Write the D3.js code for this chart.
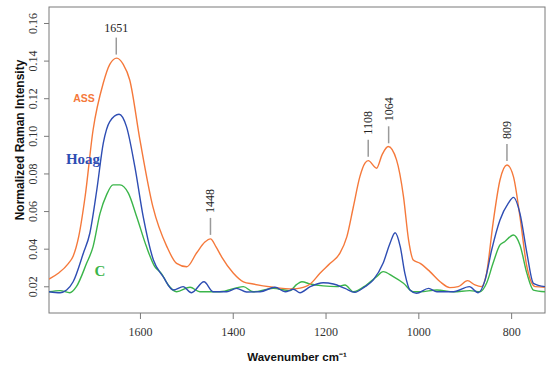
<!DOCTYPE html>
<html><head><meta charset="utf-8">
<script src="https://cdn.jsdelivr.net/npm/d3@7/dist/d3.min.js"></script>
<style>body{margin:0;background:#fff}svg{display:block}</style>
</head><body><svg id="c" width="550" height="366"></svg>
<script>
// ---- data ----
const assWn = [1796,1776,1754,1744,1732,1718,1701,1679,1665,1650,1636,1622,1600,1572,1542,1521,1499,1478,1460,1448,1436,1424,1399,1377,1356,1313,1269,1255,1233,1212,1190,1169,1154,1140,1126,1115,1108,1090,1078,1065,1047,1032,1021,1011,996,975,953,932,914,894,878,864,853,839,824,809,795,781,766,748,727];
const assVal = [.0238,.0269,.0322,.0360,.0464,.068,.1031,.1281,.138,.1413,.138,.1297,.0978,.0622,.0411,.0322,.0304,.0377,.0435,.0452,.041,.0357,.0271,.0224,.0212,.0195,.0186,.019,.0212,.0269,.0322,.0376,.0464,.0623,.0783,.0855,.0868,.0828,.09,.0943,.0872,.0677,.0446,.034,.0322,.0278,.0224,.0193,.0198,.023,.0207,.0198,.0269,.0535,.0765,.0845,.0783,.057,.0304,.0198,.0195];
const hoagWn = [1796,1772,1758,1744,1722,1708,1693,1679,1665,1645,1629,1611,1593,1571,1550,1528,1507,1489,1462,1442,1413,1392,1370,1341,1309,1287,1269,1255,1233,1205,1183,1158,1137,1115,1097,1076,1061,1050,1039,1029,1018,1004,978,960,924,890,871,856,842,824,806,795,781,766,752,727];
const hoagVal = [.0171,.0166,.018,.0224,.0376,.0482,.0712,.0961,.1076,.1115,.1049,.0836,.057,.034,.0251,.018,.0198,.0166,.0224,.0171,.0171,.0189,.017,.0171,.0195,.0171,.0184,.0166,.0198,.0219,.0212,.0189,.0168,.0198,.0234,.0322,.0429,.0485,.0411,.0269,.018,.0163,.0189,.0171,.0171,.0198,.0166,.0234,.0393,.0553,.0642,.0673,.0588,.0376,.0216,.0198];
const cWn = [1796,1772,1751,1737,1715,1701,1686,1672,1658,1643,1625,1607,1586,1568,1554,1539,1521,1492,1471,1428,1377,1356,1313,1277,1262,1251,1233,1205,1176,1158,1140,1112,1090,1076,1054,1032,1011,996,960,924,889,867,853,839,824,814,795,781,766,752,727];
const cVal = [.0171,.0177,.0166,.0198,.0322,.0411,.0588,.0686,.0739,.0739,.0695,.057,.0411,.0304,.0269,.0207,.0171,.0195,.0171,.0171,.0198,.0171,.0189,.0177,.021,.0224,.0212,.0202,.0198,.0207,.0171,.0207,.0251,.0278,.0251,.0216,.0171,.0171,.018,.0171,.0177,.0171,.0216,.0322,.042,.0437,.0473,.042,.0269,.018,.0171];
const seriesNames = ["ASS","Hoag","C"];
const peakWn = [1651,1448,1108,1064,809];
const peakLabels = ["1651","1448","1108","1064","809"];
const xTicks = [1600,1400,1200,1000,800];
const yTicks = [0.02,0.04,0.06,0.08,0.10,0.12,0.14,0.16];

// ---- drawing ----
const svg = d3.select("#c");
const L=49, R=545, T=7, B=313;
const x = d3.scaleLinear().domain([1796,727]).range([L,R]);
const y = d3.scaleLinear().domain([0.0058,0.1685]).range([B,T]);
const colors = {"ASS":"#f5793b","Hoag":"#2e4db3","C":"#3bb54a"};
const serif = "'Liberation Serif','DejaVu Serif',serif";
const sans = "'Liberation Sans',Arial,sans-serif";

// axes
const gx = svg.append("g").attr("transform",`translate(0,${B})`)
  .call(d3.axisBottom(x).tickValues(xTicks).tickSize(6).tickPadding(8).tickFormat(d3.format("d")));
const gy = svg.append("g").attr("transform",`translate(${L},0)`)
  .call(d3.axisLeft(y).tickValues(yTicks).tickSize(5).tickFormat(d3.format(".2f")));
[gx,gy].forEach(g=>{
  g.select(".domain").remove();
  g.selectAll(".tick line").attr("stroke","#7a7a7a");
  g.selectAll("text").attr("font-family",serif).attr("font-size",12).attr("fill","#333");
});
gy.selectAll(".tick text").attr("x",null).attr("dy",null)
  .attr("text-anchor","middle")
  .attr("transform","translate(-16,0) rotate(-90)")
  .attr("dy","0.35em");
gx.selectAll(".tick text").attr("dy","0.71em");

// frame
svg.append("rect").attr("x",L).attr("y",T).attr("width",R-L).attr("height",B-T)
  .attr("fill","none").attr("stroke","#7a7a7a").attr("stroke-width",1);

// clip
svg.append("clipPath").attr("id","clip").append("rect")
  .attr("x",L).attr("y",T).attr("width",R-L).attr("height",B-T);

const line = d3.line().x(d=>x(d[0])).y(d=>y(d[1])).curve(d3.curveMonotoneX);
const data = {
  "ASS": d3.zip(assWn,assVal),
  "Hoag": d3.zip(hoagWn,hoagVal),
  "C": d3.zip(cWn,cVal)
};
// draw order: C, ASS, Hoag
["C","ASS","Hoag"].forEach(n=>{
  svg.append("path").datum(data[n]).attr("clip-path","url(#clip)")
    .attr("d",line).attr("fill","none").attr("stroke",colors[n]).attr("stroke-width",1.4);
});

// peak annotations
const interpAss = w => {
  for(let i=0;i<assWn.length-1;i++){
    if(w<=assWn[i] && w>=assWn[i+1]){
      const t=(assWn[i]-w)/(assWn[i]-assWn[i+1]);
      return assVal[i]+t*(assVal[i+1]-assVal[i]);
    }
  }
  return assVal[0];
};
peakWn.forEach((w,i)=>{
  const px = x(w);
  const bot = y(interpAss(w)) - 4;
  const top = bot - 17;
  svg.append("line").attr("x1",px).attr("x2",px).attr("y1",top).attr("y2",bot)
    .attr("stroke","#9a9a9a").attr("stroke-width",1.5);
  if(i===0){
    svg.append("text").attr("x",px).attr("y",top-6).attr("text-anchor","middle")
      .attr("font-family",serif).attr("font-size",12).attr("fill","#222").text(peakLabels[i]);
  } else {
    svg.append("text").attr("transform",`translate(${px+4},${top-5}) rotate(-90)`)
      .attr("text-anchor","start").attr("font-family",serif).attr("font-size",12)
      .attr("fill","#222").text(peakLabels[i]);
  }
});

// series labels
svg.append("text").attr("x",84).attr("y",102).attr("text-anchor","middle")
  .attr("font-family",sans).attr("font-weight","bold").attr("font-size",10.5)
  .attr("fill",colors["ASS"]).text(seriesNames[0]);
svg.append("text").attr("x",83).attr("y",164).attr("text-anchor","middle")
  .attr("font-family",serif).attr("font-weight","bold").attr("font-size",15)
  .attr("fill",colors["Hoag"]).text(seriesNames[1]);
svg.append("text").attr("x",100).attr("y",276).attr("text-anchor","middle")
  .attr("font-family",serif).attr("font-weight","bold").attr("font-size",15)
  .attr("fill",colors["C"]).text(seriesNames[2]);

// axis titles
svg.append("text").attr("x",(L+R)/2).attr("y",361).attr("text-anchor","middle")
  .attr("font-family",sans).attr("font-weight","bold").attr("font-size",11.5)
  .attr("fill","#111").text("Wavenumber cm⁻¹");
svg.append("text").attr("transform","translate(24,140) rotate(-90)").attr("text-anchor","middle")
  .attr("font-family",sans).attr("font-weight","bold").attr("font-size",12)
  .attr("fill","#111").text("Normalized Raman Intensity");
</script></body></html>
